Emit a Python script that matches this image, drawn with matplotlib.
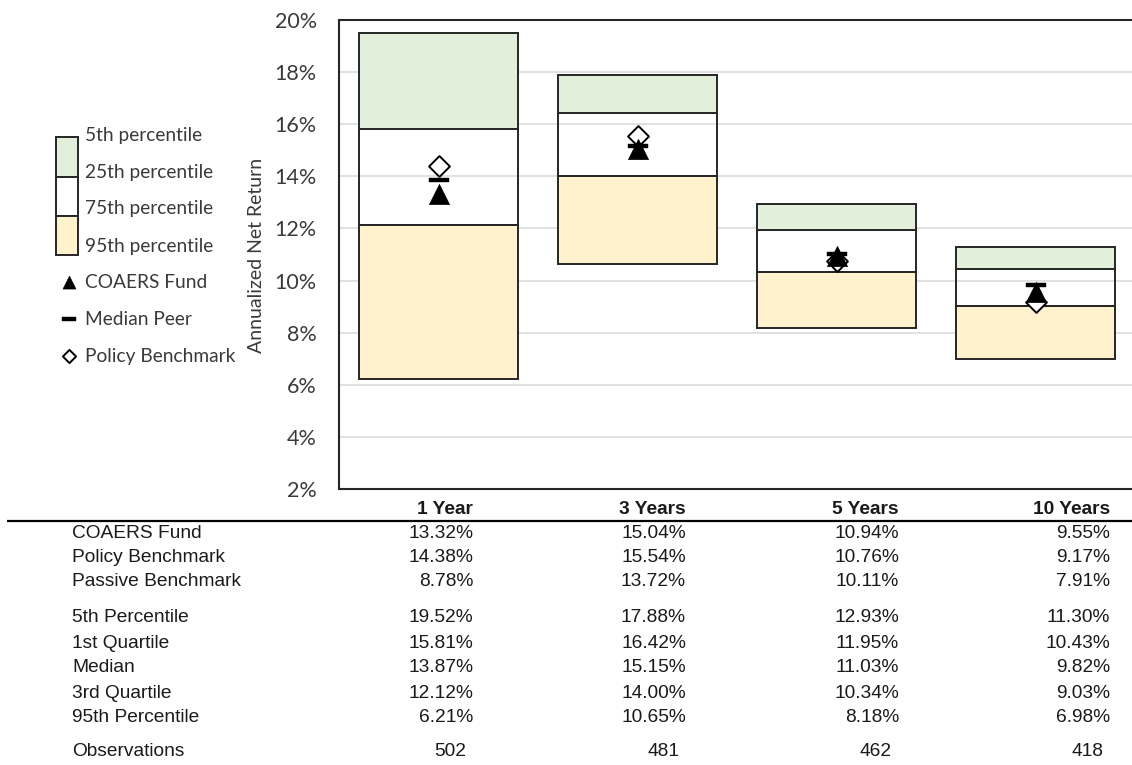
import matplotlib
matplotlib.use("Agg")
import matplotlib.pyplot as plt
from matplotlib.patches import Rectangle
from matplotlib.path import Path
from matplotlib.ticker import FuncFormatter, MultipleLocator

# ---------------- data ----------------
periods = ["1 Year", "3 Years", "5 Years", "10 Years"]
coaers_fund = [13.32, 15.04, 10.94, 9.55]
policy_benchmark = [14.38, 15.54, 10.76, 9.17]
passive_benchmark = [8.78, 13.72, 10.11, 7.91]
pct_5th = [19.52, 17.88, 12.93, 11.30]
quartile_1st = [15.81, 16.42, 11.95, 10.43]
median_peer = [13.87, 15.15, 11.03, 9.82]
quartile_3rd = [12.12, 14.00, 10.34, 9.03]
pct_95th = [6.21, 10.65, 8.18, 6.98]
observations = [502, 481, 462, 418]

legend_labels = ["5th percentile", "25th percentile", "75th percentile", "95th percentile",
                 "COAERS Fund", "Median Peer", "Policy Benchmark"]

table_groups = [
    [("COAERS Fund", coaers_fund), ("Policy Benchmark", policy_benchmark),
     ("Passive Benchmark", passive_benchmark)],
    [("5th Percentile", pct_5th), ("1st Quartile", quartile_1st), ("Median", median_peer),
     ("3rd Quartile", quartile_3rd), ("95th Percentile", pct_95th)],
]

# ---------------- style ----------------
GREEN = "#E2EFDA"
YELLOW = "#FFF2CC"
EDGE = "#262626"
TXT = "#3a3a3a"
CAL = ["Lato", "DejaVu Sans"]
ARIAL = ["Liberation Sans", "DejaVu Sans"]


def closed_marker(pts):
    verts = list(pts) + [pts[0]]
    codes = [Path.MOVETO] + [Path.LINETO] * (len(pts) - 1) + [Path.CLOSEPOLY]
    return Path(verts, codes)


tri = closed_marker([(0, 1), (-1, -1), (1, -1)])
dia = closed_marker([(0, 1), (1, 0), (0, -1), (-1, 0)])
dash = closed_marker([(-1, -0.24), (1, -0.24), (1, 0.24), (-1, 0.24)])
dash_leg = closed_marker([(-1, -0.3), (1, -0.3), (1, 0.3), (-1, 0.3)])

W, H = 1132, 765
fig = plt.figure(figsize=(W / 100, H / 100), dpi=100)

# overlay axes in pixel coordinates for legend + table
ov = fig.add_axes([0, 0, 1, 1])
ov.set_xlim(0, W)
ov.set_ylim(H, 0)
ov.axis("off")

# main chart axes
left, right, top, bottom = 339, 1135, 20, 489
ax = fig.add_axes([left / W, (H - bottom) / H, (right - left) / W, (bottom - top) / H])
ax.set_xlim(-0.5, len(periods) - 0.5)
ax.set_ylim(2, 20)
ax.set_axisbelow(True)
ax.yaxis.set_major_locator(MultipleLocator(2))
ax.yaxis.set_major_formatter(FuncFormatter(lambda v, p: f"{v:.0f}%"))
ax.grid(axis="y", color="#d9d9d9", lw=1.1)
ax.tick_params(axis="y", length=0, pad=16, labelsize=15.5, labelcolor=TXT)
ax.tick_params(axis="x", length=0, labelbottom=False)
for lab in ax.get_yticklabels():
    lab.set_family(CAL)
for s in ["left", "top", "bottom"]:
    ax.spines[s].set_color(EDGE)
    ax.spines[s].set_linewidth(1.5)
ax.spines["right"].set_visible(False)

x = list(range(len(periods)))
bw = 0.8
ax.bar(x, [a - b for a, b in zip(quartile_3rd, pct_95th)], bottom=pct_95th, width=bw,
       color=YELLOW, edgecolor=EDGE, lw=1.4, zorder=2)
ax.bar(x, [a - b for a, b in zip(quartile_1st, quartile_3rd)], bottom=quartile_3rd, width=bw,
       color="none", edgecolor=EDGE, lw=1.4, zorder=2)
ax.bar(x, [a - b for a, b in zip(pct_5th, quartile_1st)], bottom=quartile_1st, width=bw,
       color=GREEN, edgecolor=EDGE, lw=1.4, zorder=2)

ax.plot(x, policy_benchmark, ls="none", marker=dia, ms=15, mfc="white", mec="black", mew=1.4, zorder=4)
ax.plot(x, coaers_fund, ls="none", marker=tri, ms=14.5, mfc="black", mec="black", mew=0.5, zorder=5)
ax.plot(x, median_peer, ls="none", marker=dash, ms=15, mfc="black", mec="black", mew=0.3, zorder=6)

# y label
fig.text(257 / W, 1 - 255 / H, "Annualized Net Return", rotation=90, ha="center", va="center",
         fontsize=14, color=TXT, family=CAL)

# ---------------- legend ----------------
ov.add_patch(Rectangle((56, 137), 22, 40, facecolor=GREEN, edgecolor=EDGE, lw=1.4))
ov.add_patch(Rectangle((56, 177), 22, 39, facecolor="white", edgecolor=EDGE, lw=1.4))
ov.add_patch(Rectangle((56, 216), 22, 39, facecolor=YELLOW, edgecolor=EDGE, lw=1.4))
leg_y = [135, 172, 208, 246, 282, 319, 356]
for lbl, yy in zip(legend_labels, leg_y):
    ov.text(85, yy, lbl, ha="left", va="center", fontsize=13.8, color=TXT, family=CAL)
ov.plot([69], [leg_y[4]], ls="none", marker=tri, ms=9.5, mfc="black", mec="black", mew=0.3)
ov.plot([69], [leg_y[5]], ls="none", marker=dash_leg, ms=9.5, mfc="black", mec="black", mew=0.3)
ov.plot([69], [leg_y[6]], ls="none", marker=dia, ms=9.5, mfc="white", mec="black", mew=1.4)

# ---------------- table ----------------
col_right = [473, 686, 899, 1110]
label_x = 72
header_y = 509
ov.plot([7, W], [521, 521], color="black", lw=1.6, solid_capstyle="butt")
for cx, p in zip(col_right, periods):
    ov.text(cx, header_y, p, ha="right", va="center", fontsize=13.8, fontweight="bold",
            color="#1a1a1a", family=ARIAL)

row_y = [[533, 558, 582], [618, 643, 668, 693, 718]]
for group, ys in zip(table_groups, row_y):
    for (name, vals), yy in zip(group, ys):
        ov.text(label_x, yy, name, ha="left", va="center", fontsize=13.8, color="#1a1a1a", family=ARIAL)
        for cx, v in zip(col_right, vals):
            ov.text(cx, yy, f"{v:.2f}%", ha="right", va="center", fontsize=13.8, color="#1a1a1a",
                    family=ARIAL)
obs_y = 752
ov.text(label_x, obs_y, "Observations", ha="left", va="center", fontsize=13.8, color="#1a1a1a", family=ARIAL)
for cx, v in zip(col_right, observations):
    ov.text(cx - 7, obs_y, f"{v}", ha="right", va="center", fontsize=13.8, color="#1a1a1a", family=ARIAL)

fig.savefig("out.png", dpi=100)
